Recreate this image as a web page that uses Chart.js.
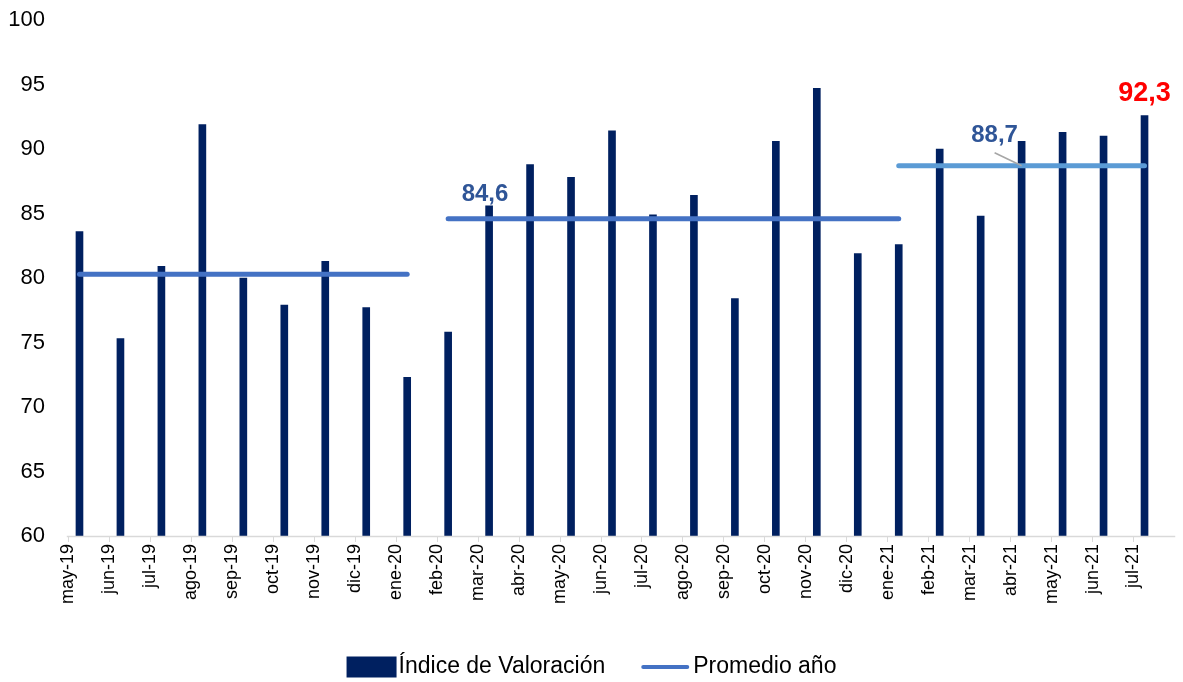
<!DOCTYPE html>
<html lang="es">
<head>
<meta charset="utf-8">
<title>Índice de Valoración</title>
<script src="https://cdn.jsdelivr.net/npm/chart.js@4.4.1/dist/chart.umd.min.js"></script>
<style>
  html, body { margin: 0; padding: 0; background: #ffffff; }
  canvas { display: block; }
</style>
</head>
<body>
<canvas id="c" width="1183" height="682"></canvas>
<script>
// ---- Datos ----
const meses = ["may-19","jun-19","jul-19","ago-19","sep-19","oct-19","nov-19","dic-19",
  "ene-20","feb-20","mar-20","abr-20","may-20","jun-20","jul-20","ago-20","sep-20","oct-20","nov-20","dic-20",
  "ene-21","feb-21","mar-21","abr-21","may-21","jun-21","jul-21"];
const indice = [83.6, 75.3, 80.9, 91.9, 80.0, 77.9, 81.3, 77.7,
  72.3, 75.8, 85.6, 88.8, 87.8, 91.4, 84.9, 86.4, 78.4, 90.6, 94.7, 81.9,
  82.6, 90.0, 84.8, 90.6, 91.3, 91.0, 92.6];
const promedios = [80.3, 84.6, 88.7];
// tramo de cada promedio: [índice inicial, índice final] de la categoría
const tramos = [[0, 8], [9, 20], [20, 26]];
const ultimoValorTexto = "92,3";
const yTicks = [60, 65, 70, 75, 80, 85, 90, 95, 100];
const nombreBarras = "Índice de Valoración";
const nombreLinea = "Promedio año";

const FONT = "'Liberation Sans', Arial, sans-serif";
const colorBarras = "#002060";
const coloresPromedio = ["#4472C4", "#4472C4", "#5B9BD5"];

const lineDatasets = promedios.map((v, k) => ({
  type: "line",
  label: nombreLinea,
  data: meses.map((m, i) => (i >= tramos[k][0] && i <= tramos[k][1]) ? v : null),
  borderColor: coloresPromedio[k],
  backgroundColor: coloresPromedio[k],
  borderWidth: 5,
  borderCapStyle: "round",
  pointRadius: 0,
  pointHoverRadius: 0,
  fill: false,
  spanGaps: false,
  order: 0
}));

const fmt = v => v.toFixed(1).replace(".", ",");

const extras = {
  id: "extras",
  afterDatasetsDraw(chart) {
    const c = chart.ctx, xs = chart.scales.x, ys = chart.scales.y;
    const W = xs.getPixelForValue(1) - xs.getPixelForValue(0);
    const yb = ys.getPixelForValue(60);
    c.save();
    // eje x
    c.strokeStyle = "#D9D9D9";
    c.lineWidth = 1.5;
    c.beginPath();
    c.moveTo(xs.getPixelForValue(0) - 0.31 * W, yb + 0.5);
    c.lineTo(xs.getPixelForValue(meses.length - 1) + 0.75 * W, yb + 0.5);
    c.stroke();
    // marcas
    c.lineWidth = 1;
    meses.forEach((m, i) => {
      const x = Math.round(xs.getPixelForValue(i) - 0.28 * W) + 0.5;
      c.beginPath();
      c.moveTo(x, yb);
      c.lineTo(x, yb + 6);
      c.stroke();
    });
    // etiquetas de promedios
    c.textAlign = "center";
    c.textBaseline = "middle";
    c.font = "bold 24px " + FONT;
    c.fillStyle = "#2F5597";
    const s2 = tramos[1][0];
    c.fillText(fmt(promedios[1]), xs.getPixelForValue(s2) + 0.9 * W, ys.getPixelForValue(promedios[1]) - 24);
    const s3 = tramos[2][1] - 3;
    const lx = xs.getPixelForValue(s3) - 0.66 * W;
    const ly = ys.getPixelForValue(promedios[2]) - 30;
    c.fillText(fmt(promedios[2]), lx, ly);
    c.strokeStyle = "#A6A6A6";
    c.lineWidth = 1.5;
    c.beginPath();
    c.moveTo(lx, ly + 17);
    c.lineTo(xs.getPixelForValue(s3), ys.getPixelForValue(promedios[2]));
    c.stroke();
    // último valor
    const last = meses.length - 1;
    c.font = "bold 27px " + FONT;
    c.fillStyle = "#FF0000";
    c.fillText(ultimoValorTexto, xs.getPixelForValue(last), ys.getPixelForValue(indice[last]) - 22);
    c.restore();
  },
  afterDraw(chart) {
    // leyenda
    const c = chart.ctx;
    c.save();
    c.font = "23px " + FONT;
    c.textBaseline = "middle";
    c.textAlign = "left";
    const t1 = c.measureText(nombreBarras).width;
    const t2 = c.measureText(nombreLinea).width;
    const boxW = 50, gap1 = 2, sep = 36, lineW = 48, gap2 = 4;
    const total = boxW + gap1 + t1 + sep + lineW + gap2 + t2;
    let x = (chart.width - total) / 2;
    const yc = 667;
    c.fillStyle = colorBarras;
    c.fillRect(x, yc - 10.5, boxW, 21);
    x += boxW + gap1;
    c.fillStyle = "#000000";
    c.fillText(nombreBarras, x, yc);
    x += t1 + sep;
    c.strokeStyle = coloresPromedio[0];
    c.lineWidth = 4;
    c.lineCap = "round";
    c.beginPath();
    c.moveTo(x + 2, yc);
    c.lineTo(x + lineW - 2, yc);
    c.stroke();
    x += lineW + gap2;
    c.fillText(nombreLinea, x, yc);
    c.restore();
  }
};

new Chart(document.getElementById("c"), {
  type: "bar",
  data: {
    labels: meses,
    datasets: [
      {
        type: "bar",
        label: nombreBarras,
        data: indice,
        backgroundColor: colorBarras,
        borderWidth: 0,
        barThickness: 7,
        order: 1
      },
      ...lineDatasets
    ]
  },
  options: {
    responsive: false,
    animation: false,
    layout: { padding: { left: 0, right: 18, top: 20, bottom: 40 } },
    plugins: {
      title: { display: false },
      tooltip: { enabled: false },
      legend: { display: false }
    },
    scales: {
      x: {
        offset: true,
        grid: { display: false, drawTicks: false },
        border: { display: false },
        ticks: {
          autoSkip: false,
          minRotation: 90,
          maxRotation: 90,
          labelOffset: -11,
          padding: 8,
          color: "#000000",
          font: { family: FONT, size: 18 }
        },
        afterFit: s => { s.height = 106; s.paddingLeft = 0; s.paddingRight = 0; }
      },
      y: {
        min: 60,
        max: 100,
        afterBuildTicks: s => { s.ticks = yTicks.map(v => ({ value: v })); },
        grid: { display: false, drawTicks: false },
        border: { display: false },
        ticks: {
          padding: 14,
          color: "#000000",
          font: { family: FONT, size: 22 }
        },
        afterFit: s => { s.width = 59; s.paddingTop = 0; s.paddingBottom = 0; }
      }
    }
  },
  plugins: [extras]
});
</script>
</body>
</html>
